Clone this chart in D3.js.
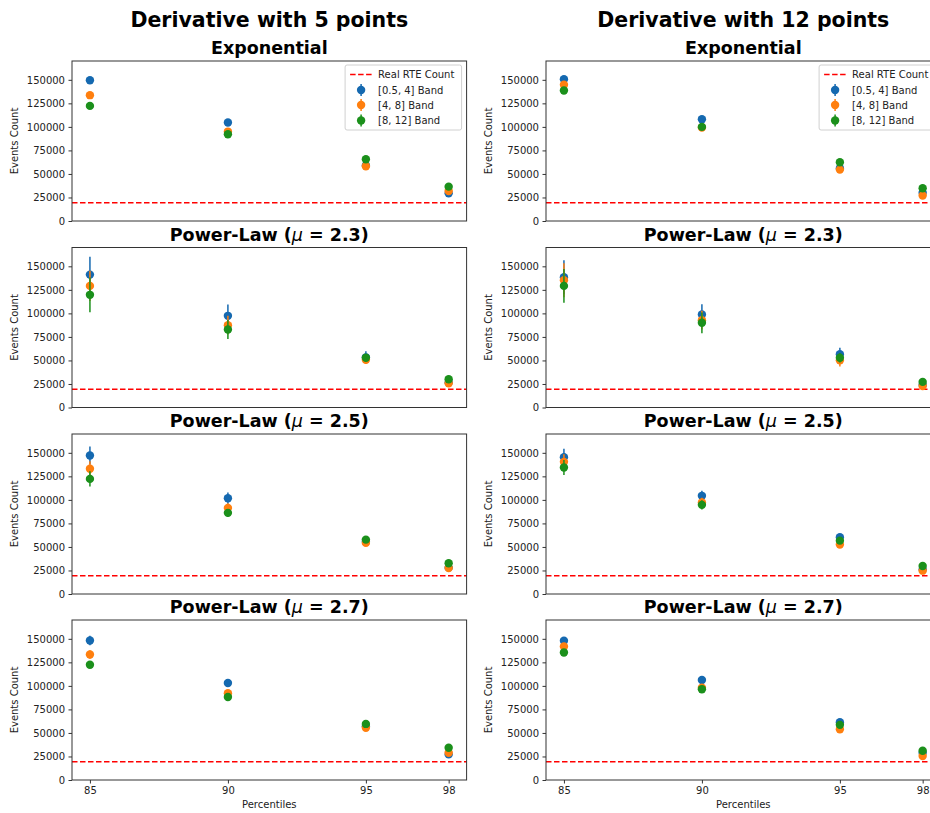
<!DOCTYPE html>
<html>
<head>
<meta charset="utf-8">
<script src="https://cdn.jsdelivr.net/npm/d3@7/dist/d3.min.js"></script>
<style>
  html, body { margin: 0; padding: 0; background: #fff; overflow: hidden; }
  svg { display: block; font-family: "DejaVu Sans", sans-serif; }
</style>
</head>
<body>
<svg id="chart" width="930" height="813"></svg>
<script>
// ---------------- DATA ----------------
const percentiles = [85, 90, 95, 98];
const bands = ["[0.5, 4] Band", "[4, 8] Band", "[8, 12] Band"];
const bandColors = ["#1569b0", "#ff7f0e", "#1b901b"];
const columnTitles = ["Derivative with 5 points", "Derivative with 12 points"];
const rowNames = ["Exponential", "Power-Law", "Power-Law", "Power-Law"];
const rowMu = [null, "2.3", "2.5", "2.7"];
const realRteCount = 19500;
const yTicks = [0, 25000, 50000, 75000, 100000, 125000, 150000];
const yMax = 170000;

// values per band [blue, orange, green], each over percentiles
const exp5Values   = [[149600, 104600, 59000, 29400], [133700, 95000, 58200, 31900], [122300, 92200, 65600, 36500]];
const exp5Errors   = [[800, 800, 800, 800], [800, 800, 800, 800], [800, 800, 800, 800]];
const exp12Values  = [[150700, 108200, 56000, 30100], [144700, 99300, 54600, 27000], [138700, 100000, 62400, 34800]];
const exp12Errors  = [[800, 800, 800, 800], [800, 800, 800, 800], [800, 800, 800, 800]];
const pl23_5Values = [[141200, 97400, 53300, 26500], [129200, 87500, 50800, 25800], [119700, 82900, 52900, 30000]];
const pl23_5Errors = [[19000, 12000, 6500, 2000], [16000, 10000, 4500, 1500], [18500, 10000, 4000, 1500]];
const pl23_12Values = [[138400, 98800, 56500, 24000], [135200, 92800, 50100, 22900], [129200, 90000, 52900, 27200]];
const pl23_12Errors = [[18000, 11000, 7000, 2000], [18000, 10000, 6500, 2000], [18000, 11000, 5000, 1500]];
const pl25_5Values = [[147200, 101800, 55500, 28000], [133000, 91500, 54300, 27700], [122300, 86200, 57800, 32600]];
const pl25_5Errors = [[9500, 6000, 2500, 1500], [8000, 5000, 2000, 1200], [8000, 4000, 2000, 1200]];
const pl25_12Values = [[145400, 104300, 60300, 26000], [140400, 97200, 52500, 24800], [134400, 94700, 56700, 29800]];
const pl25_12Errors = [[9000, 5300, 3000, 1500], [8000, 5000, 3000, 1500], [8000, 5000, 2500, 1200]];
const pl27_5Values = [[148200, 103000, 57000, 27200], [133400, 92100, 55400, 28900], [122500, 88200, 59600, 34200]];
const pl27_5Errors = [[5000, 2000, 1500, 1500], [4500, 2000, 1500, 1000], [3000, 1500, 1500, 1000]];
const pl27_12Values = [[147900, 106200, 61400, 29000], [141900, 98100, 54000, 25400], [135500, 96400, 58600, 31100]];
const pl27_12Errors = [[4000, 2000, 1500, 1000], [3500, 1500, 1500, 1000], [3500, 1500, 1000, 1000]];

const panelValues = [
  [exp5Values, exp12Values],
  [pl23_5Values, pl23_12Values],
  [pl25_5Values, pl25_12Values],
  [pl27_5Values, pl27_12Values]
];
const panelErrors = [
  [exp5Errors, exp12Errors],
  [pl23_5Errors, pl23_12Errors],
  [pl25_5Errors, pl25_12Errors],
  [pl27_5Errors, pl27_12Errors]
];

// ---------------- LAYOUT ----------------
const svg = d3.select("#chart");
const colLeft = [72, 546];
const plotW = 394.6;
const rowTop = [61, 247.5, 434, 620];
const plotH = 160;
const frameColor = "#333";
const textColor = "#222";

const xPad = (d3.max(percentiles) - d3.min(percentiles)) * 0.05;

columnTitles.forEach((t, c) => {
  svg.append("text")
    .attr("x", colLeft[c] + plotW / 2)
    .attr("y", 27)
    .attr("text-anchor", "middle")
    .attr("font-size", "20.5px")
    .attr("font-weight", "bold")
    .attr("fill", "#000")
    .text(t);
});

for (let r = 0; r < 4; r++) {
  for (let c = 0; c < 2; c++) {
    const x0 = colLeft[c], y0 = rowTop[r];
    const x = d3.scaleLinear()
      .domain([d3.min(percentiles) - xPad, d3.max(percentiles) + xPad])
      .range([x0, x0 + plotW]);
    const y = d3.scaleLinear().domain([0, yMax]).range([y0 + plotH, y0]);
    const g = svg.append("g");

    // subplot title
    const title = g.append("text")
      .attr("x", x0 + plotW / 2)
      .attr("y", y0 - 7)
      .attr("text-anchor", "middle")
      .attr("font-size", "17.5px")
      .attr("font-weight", "bold")
      .attr("fill", "#000");
    if (rowMu[r] === null) {
      title.text(rowNames[r]);
    } else {
      title.append("tspan").text(rowNames[r] + " (");
      title.append("tspan").attr("font-style", "italic").attr("font-weight", "normal")
        .text("\u03bc");
      title.append("tspan").text(" = " + rowMu[r] + ")");
    }

    // y axis
    const yAxis = d3.axisLeft(y).tickValues(yTicks).tickSize(3.5).tickPadding(3.5)
      .tickFormat(d3.format("d"));
    const ya = g.append("g").attr("transform", `translate(${x0},0)`).call(yAxis);
    ya.select(".domain").remove();
    ya.selectAll("line").attr("stroke", frameColor);
    ya.selectAll("text").attr("font-size", "10px").attr("fill", textColor)
      .attr("font-family", "DejaVu Sans, sans-serif");

    g.append("text")
      .attr("transform", `translate(${x0 - 54},${y0 + plotH / 2}) rotate(-90)`)
      .attr("text-anchor", "middle")
      .attr("font-size", "10px")
      .attr("fill", textColor)
      .text("Events Count");

    // x axis only on last row
    if (r === 3) {
      const xAxis = d3.axisBottom(x).tickValues(percentiles).tickSize(3.5).tickPadding(3.5)
        .tickFormat(d3.format("d"));
      const xa = g.append("g").attr("transform", `translate(0,${y0 + plotH})`).call(xAxis);
      xa.select(".domain").remove();
      xa.selectAll("line").attr("stroke", frameColor);
      xa.selectAll("text").attr("font-size", "10px").attr("fill", textColor)
        .attr("font-family", "DejaVu Sans, sans-serif");
      g.append("text")
        .attr("x", x0 + plotW / 2)
        .attr("y", y0 + plotH + 28)
        .attr("text-anchor", "middle")
        .attr("font-size", "10px")
        .attr("fill", textColor)
        .text("Percentiles");
    }

    // real RTE line
    g.append("line")
      .attr("x1", x0).attr("x2", x0 + plotW)
      .attr("y1", y(realRteCount)).attr("y2", y(realRteCount))
      .attr("stroke", "#ff0000").attr("stroke-width", 1.5)
      .attr("stroke-dasharray", "5.5,2.5");

    // error bars + points
    const vals = panelValues[r][c], errs = panelErrors[r][c];
    bands.forEach((b, k) => {
      const pts = percentiles.map((p, i) => ({ p, v: vals[k][i], e: errs[k][i] }));
      g.selectAll(null).data(pts).enter().append("line")
        .attr("x1", d => x(d.p)).attr("x2", d => x(d.p))
        .attr("y1", d => y(d.v - d.e)).attr("y2", d => y(d.v + d.e))
        .attr("stroke", bandColors[k]).attr("stroke-width", 1.5);
      g.selectAll(null).data(pts).enter().append("circle")
        .attr("cx", d => x(d.p)).attr("cy", d => y(d.v))
        .attr("r", 4.2)
        .attr("fill", bandColors[k]);
    });

    // frame
    g.append("rect")
      .attr("x", x0).attr("y", y0).attr("width", plotW).attr("height", plotH)
      .attr("fill", "none").attr("stroke", frameColor).attr("stroke-width", 1);

    // legend in first row
    if (r === 0) {
      const lx = x0 + plotW - 121.5, ly = y0 + 4;
      const lg = g.append("g").attr("transform", `translate(${lx},${ly})`);
      lg.append("rect").attr("x", 0).attr("y", 0).attr("width", 116.5).attr("height", 65)
        .attr("rx", 2).attr("fill", "#fff").attr("fill-opacity", 0.85)
        .attr("stroke", "#d0d0d0").attr("stroke-width", 1);
      const rowY = [9.5, 25, 40, 55.5];
      lg.append("line").attr("x1", 5).attr("x2", 27).attr("y1", rowY[0]).attr("y2", rowY[0])
        .attr("stroke", "#ff0000").attr("stroke-width", 1.5).attr("stroke-dasharray", "5.5,2.5");
      lg.append("text").attr("x", 33).attr("y", rowY[0]).attr("dy", "0.35em")
        .attr("font-size", "10px").attr("fill", textColor).text("Real RTE Count");
      bands.forEach((b, k) => {
        const yy = rowY[k + 1];
        lg.append("line").attr("x1", 16).attr("x2", 16).attr("y1", yy - 6).attr("y2", yy + 6)
          .attr("stroke", bandColors[k]).attr("stroke-width", 1.5);
        lg.append("circle").attr("cx", 16).attr("cy", yy).attr("r", 4.2).attr("fill", bandColors[k]);
        lg.append("text").attr("x", 33).attr("y", yy).attr("dy", "0.35em")
          .attr("font-size", "10px").attr("fill", textColor).text(b);
      });
    }
  }
}
</script>
</body>
</html>
